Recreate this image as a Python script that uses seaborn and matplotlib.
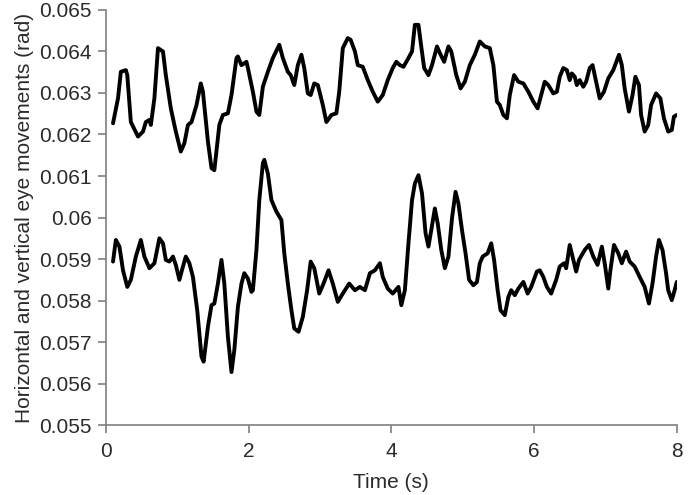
import matplotlib
matplotlib.use("Agg")
import matplotlib.pyplot as plt
import seaborn as sns
import pandas as pd
from matplotlib.ticker import FuncFormatter

# upper trace
top_t = [0.10, 0.17, 0.21, 0.28, 0.30, 0.35, 0.45, 0.52, 0.56, 0.61, 0.63, 0.68, 0.73, 0.80,
         0.84, 0.91, 0.98, 1.05, 1.10, 1.15, 1.20, 1.27, 1.33, 1.36, 1.43, 1.48, 1.52, 1.59,
         1.64, 1.71, 1.76, 1.83, 1.85, 1.90, 1.97, 1.99, 2.06, 2.11, 2.15, 2.20, 2.27, 2.34,
         2.43, 2.48, 2.55, 2.59, 2.64, 2.69, 2.74, 2.78, 2.83, 2.87, 2.92, 2.97, 3.04, 3.09,
         3.16, 3.23, 3.27, 3.32, 3.39, 3.43, 3.49, 3.53, 3.60, 3.67, 3.74, 3.81, 3.88, 3.95,
         4.02, 4.07, 4.12, 4.17, 4.24, 4.29, 4.33, 4.38, 4.41, 4.46, 4.52, 4.57, 4.64, 4.68,
         4.74, 4.80, 4.84, 4.91, 4.97, 5.03, 5.10, 5.17, 5.24, 5.31, 5.38, 5.43, 5.48, 5.52,
         5.57, 5.62, 5.66, 5.72, 5.78, 5.85, 5.92, 5.99, 6.05, 6.10, 6.15, 6.20, 6.27, 6.32,
         6.36, 6.41, 6.46, 6.50, 6.53, 6.57, 6.60, 6.64, 6.69, 6.73, 6.78, 6.82, 6.87, 6.92,
         6.98, 7.04, 7.11, 7.19, 7.23, 7.27, 7.33, 7.38, 7.42, 7.47, 7.50, 7.55, 7.60, 7.64,
         7.71, 7.77, 7.82, 7.88, 7.93, 7.96, 8.00]
top_y = [0.06227, 0.06287, 0.06351, 0.06355, 0.06343, 0.06230, 0.06195, 0.06207, 0.06230,
         0.06235, 0.06223, 0.06287, 0.06408, 0.06400, 0.06343, 0.06263, 0.06207, 0.06159,
         0.06179, 0.06223, 0.06230, 0.06271, 0.06323, 0.06303, 0.06183, 0.06119, 0.06114,
         0.06223, 0.06247, 0.06251, 0.06295, 0.06384, 0.06388, 0.06367, 0.06375, 0.06360,
         0.06303, 0.06255, 0.06247, 0.06315, 0.06351, 0.06384, 0.06416, 0.06384, 0.06351,
         0.06343, 0.06319, 0.06367, 0.06392, 0.06360, 0.06299, 0.06295, 0.06323, 0.06319,
         0.06271, 0.06230, 0.06247, 0.06251, 0.06303, 0.06408, 0.06432, 0.06428, 0.06400,
         0.06367, 0.06363, 0.06331, 0.06303, 0.06279, 0.06295, 0.06331, 0.06360, 0.06375,
         0.06367, 0.06363, 0.06384, 0.06400, 0.06464, 0.06464, 0.06424, 0.06360, 0.06343,
         0.06367, 0.06412, 0.06396, 0.06375, 0.06412, 0.06400, 0.06343, 0.06311, 0.06327,
         0.06367, 0.06392, 0.06424, 0.06412, 0.06408, 0.06367, 0.06279, 0.06271, 0.06247,
         0.06239, 0.06295, 0.06343, 0.06327, 0.06323, 0.06303, 0.06279, 0.06263, 0.06295,
         0.06327, 0.06319, 0.06299, 0.06303, 0.06339, 0.06360, 0.06355, 0.06331, 0.06347,
         0.06339, 0.06319, 0.06331, 0.06315, 0.06327, 0.06360, 0.06367, 0.06327, 0.06287,
         0.06303, 0.06335, 0.06355, 0.06392, 0.06367, 0.06311, 0.06255, 0.06295, 0.06339,
         0.06319, 0.06247, 0.06207, 0.06223, 0.06271, 0.06299, 0.06287, 0.06239, 0.06207,
         0.06211, 0.06243, 0.06247]

# lower trace
bot_t = [0.10, 0.14, 0.19, 0.24, 0.30, 0.35, 0.42, 0.49, 0.54, 0.61, 0.68, 0.75, 0.80, 0.84,
         0.89, 0.94, 0.98, 1.03, 1.08, 1.12, 1.17, 1.22, 1.28, 1.34, 1.37, 1.43, 1.48, 1.52,
         1.57, 1.62, 1.66, 1.71, 1.76, 1.80, 1.85, 1.90, 1.94, 1.99, 2.04, 2.06, 2.11, 2.15,
         2.20, 2.22, 2.27, 2.32, 2.39, 2.46, 2.50, 2.55, 2.60, 2.64, 2.70, 2.76, 2.82, 2.87,
         2.92, 2.99, 3.05, 3.12, 3.18, 3.25, 3.32, 3.41, 3.49, 3.56, 3.63, 3.70, 3.77, 3.84,
         3.88, 3.95, 4.02, 4.10, 4.14, 4.19, 4.24, 4.29, 4.33, 4.38, 4.43, 4.48, 4.52, 4.56,
         4.61, 4.65, 4.70, 4.75, 4.80, 4.85, 4.90, 4.94, 4.99, 5.04, 5.09, 5.15, 5.20, 5.24,
         5.28, 5.35, 5.40, 5.44, 5.49, 5.53, 5.59, 5.64, 5.68, 5.73, 5.78, 5.85, 5.91, 5.96,
         6.04, 6.08, 6.13, 6.18, 6.24, 6.31, 6.36, 6.42, 6.45, 6.50, 6.54, 6.59, 6.63, 6.71,
         6.77, 6.83, 6.89, 6.95, 6.99, 7.04, 7.07, 7.12, 7.18, 7.23, 7.29, 7.34, 7.41, 7.48,
         7.55, 7.61, 7.66, 7.71, 7.75, 7.80, 7.85, 7.88, 7.93, 7.97, 8.00]
bot_y = [0.05894, 0.05946, 0.05930, 0.05873, 0.05833, 0.05850, 0.05906, 0.05946, 0.05906,
         0.05878, 0.05890, 0.05950, 0.05938, 0.05898, 0.05894, 0.05906, 0.05886, 0.05850,
         0.05882, 0.05906, 0.05890, 0.05857, 0.05777, 0.05665, 0.05653, 0.05737, 0.05789,
         0.05793, 0.05841, 0.05898, 0.05841, 0.05713, 0.05628, 0.05681, 0.05785, 0.05841,
         0.05866, 0.05853, 0.05821, 0.05825, 0.05922, 0.06042, 0.06131, 0.06139, 0.06106,
         0.06042, 0.06014, 0.05994, 0.05914, 0.05841, 0.05777, 0.05733, 0.05725, 0.05761,
         0.05825, 0.05894, 0.05878, 0.05817, 0.05841, 0.05873, 0.05841, 0.05797, 0.05817,
         0.05841, 0.05825, 0.05833, 0.05825, 0.05866, 0.05873, 0.05890, 0.05857, 0.05829,
         0.05817, 0.05833, 0.05789, 0.05825, 0.05938, 0.06042, 0.06082, 0.06102, 0.06058,
         0.05962, 0.05930, 0.05970, 0.06022, 0.05986, 0.05922, 0.05878, 0.05906, 0.05998,
         0.06062, 0.06034, 0.05970, 0.05914, 0.05850, 0.05837, 0.05845, 0.05890, 0.05906,
         0.05914, 0.05938, 0.05898, 0.05825, 0.05777, 0.05765, 0.05809, 0.05825, 0.05813,
         0.05829, 0.05845, 0.05817, 0.05833, 0.05870, 0.05873, 0.05857, 0.05833, 0.05817,
         0.05850, 0.05882, 0.05890, 0.05878, 0.05934, 0.05906, 0.05870, 0.05898, 0.05922,
         0.05934, 0.05906, 0.05886, 0.05930, 0.05890, 0.05829, 0.05873, 0.05934, 0.05914,
         0.05890, 0.05918, 0.05894, 0.05882, 0.05857, 0.05833, 0.05793, 0.05841, 0.05906,
         0.05946, 0.05922, 0.05866, 0.05825, 0.05801, 0.05825, 0.05845]

x_ticks = [0, 2, 4, 6, 8]
y_ticks = [0.055, 0.056, 0.057, 0.058, 0.059, 0.06, 0.061, 0.062, 0.063, 0.064, 0.065]


def main():
    sns.set_style("ticks")
    plt.rcParams['font.family'] = ['Liberation Sans', 'DejaVu Sans']
    grey = "#7f7f7f"
    txt = "#2b2b2b"
    fs = 15

    top_df = pd.DataFrame({"t": top_t, "y": top_y})
    bot_df = pd.DataFrame({"t": bot_t, "y": bot_y})

    fig = plt.figure(figsize=(6.92, 4.95), dpi=100)
    ax = fig.add_axes([0.153, 0.141, 0.825, 0.839])

    sns.lineplot(x="t", y="y", data=top_df, ax=ax, color="black", linewidth=2.8, sort=False)
    sns.lineplot(x="t", y="y", data=bot_df, ax=ax, color="black", linewidth=2.8, sort=False)

    ax.set_xlim(0, 8)
    ax.set_ylim(0.055, 0.065)
    ax.set_xticks(x_ticks)
    ax.set_yticks(y_ticks)
    ax.yaxis.set_major_formatter(FuncFormatter(lambda v, p: f"{v:g}"))
    ax.tick_params(axis='both', which='major', labelsize=fs, colors=grey,
                   labelcolor=txt, length=6, width=1.2, direction='out', pad=4)
    ax.tick_params(axis='x', pad=6)
    for s in ["top", "right"]:
        ax.spines[s].set_visible(False)
    for s in ["left", "bottom"]:
        ax.spines[s].set_color(grey)
        ax.spines[s].set_linewidth(1.2)

    ax.set_xlabel("Time (s)", fontsize=fs, color=txt, labelpad=9)
    ax.set_ylabel("Horizontal and vertical eye movements (rad)", fontsize=fs, color=txt, labelpad=4)

    plt.savefig("out.png", dpi=100)


if __name__ == "__main__":
    main()
